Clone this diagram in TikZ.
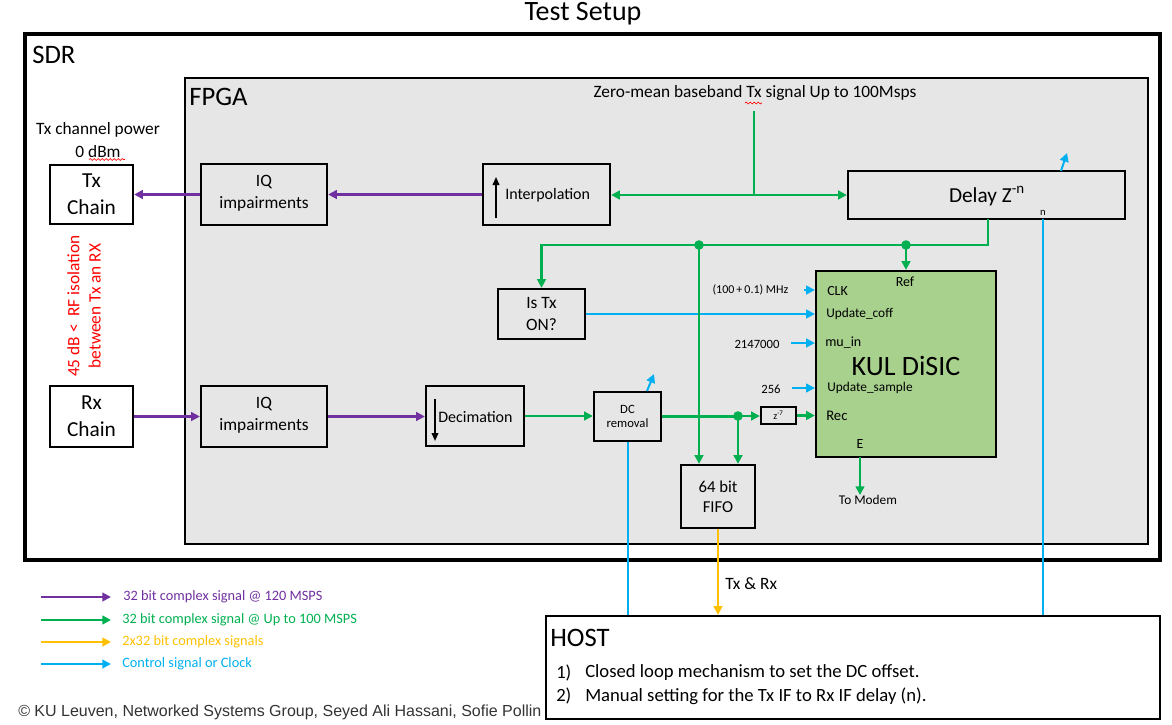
\documentclass[tikz,border=0pt]{standalone}
\usepackage{fontspec}
\setmainfont{Carlito}
\newfontfamily\arialf{Liberation Sans}
\usetikzlibrary{fit,arrows.meta,decorations.pathmorphing}
\definecolor{cPurp}{HTML}{7030A0}
\definecolor{cGrn}{HTML}{00B050}
\definecolor{cOrg}{HTML}{FFC000}
\definecolor{cCyn}{HTML}{00B0F0}
\definecolor{cFpga}{HTML}{E7E6E6}
\definecolor{cKul}{HTML}{A9D18E}
\newcommand\fsz[2]{\fontsize{#1}{#2}\selectfont}
\begin{document}
\begin{tikzpicture}[x=0.75pt,y=-0.75pt,
  box/.style={draw=black, line width=1.7pt, inner sep=0pt},
  txt/.style={inner sep=0pt, align=center},
  arrtip/.style={-{Triangle[length=6.5pt,width=6.5pt]}},
  sigP/.style={draw=cPurp, line width=1.6pt, arrtip},
  sigG/.style={draw=cGrn, line width=1.7pt, arrtip},
  sigO/.style={draw=cOrg, line width=1.5pt, arrtip},
  sigC/.style={draw=cCyn, line width=1.5pt, arrtip},
  lineG/.style={draw=cGrn, line width=1.7pt},
  lineC/.style={draw=cCyn, line width=1.5pt},
  dotG/.style={fill=cGrn},
  wavy/.style={draw=red, line width=0.5pt, decorate, decoration={snake, amplitude=0.7pt, segment length=3pt}},
  blk/.style={draw=black, line width=1.2pt, -{Triangle[length=6pt,width=5pt]}}
]
\useasboundingbox (0,0) rectangle (1172,725);

% title
\node[txt, font=\fsz{21}{25}] (title) at (583,14) {Test Setup};

% SDR
\node[draw=black, line width=3pt, inner sep=0pt, fit={(25,34)(1160,560)}] (sdr) {};
\node[txt, anchor=west, font=\fsz{20}{24}] (sdrl) at (32,55) {SDR};

% FPGA
\node[box, fill=cFpga, fit={(185,78)(1148,544)}] (fpga) {};
\node[txt, anchor=west, font=\fsz{20}{24}] (fpgal) at (189,97) {FPGA};
\node[txt, font=\fsz{13}{16}] (zm) at (755,93) {Zero-mean baseband Tx signal Up to 100Msps};
\draw[wavy] (745,103) -- (762,103);

% Tx side
\node[txt, font=\fsz{13}{16}] (txpow) at (98,130) {Tx channel power};
\node[txt, font=\fsz{13}{16}] (dbm) at (98,152) {0 dBm};
\draw[wavy] (89,159.5) -- (125,159.5);
\node[box, fill=white, fit={(50,165)(133,224)}] (txc) {};
\node[txt, font=\fsz{16}{20}] (txcl) at (txc.center) {Tx\\Chain};
\node[box, fill=white, fit={(50,386)(133,447)}] (rxc) {};
\node[txt, font=\fsz{16}{20}] (rxcl) at (rxc.center) {Rx\\Chain};
\node[txt, rotate=90, text=red, font=\fsz{13}{16}] (iso) at (84,306) {45 dB <\ \ RF isolation\\between Tx an RX};

% IQ impairments
\node[box, fit={(201,164)(327,225)}] (iqt) {};
\node[txt, font=\fsz{13}{16}] (iqtl) at ([yshift=0.8pt]iqt.center) {IQ\\impairments};
\node[box, fit={(201,386)(327,447)}] (iqb) {};
\node[txt, font=\fsz{13}{16}] (iqbl) at ([yshift=0.8pt]iqb.center) {IQ\\impairments};

% Interpolation
\node[box, fit={(483,164)(610,225)}] (interp) {};
\draw[blk] (496,218) -- (496,177);
\node[txt, anchor=west, font=\fsz{12}{14}] (interpl) at (505,195) {Interpolation};

% Decimation
\node[box, fit={(426,386)(524,446)}] (dec) {};
\draw[blk] (435,399) -- (435,441);
\node[txt, anchor=west, font=\fsz{12}{14}] (decl) at (438,417) {Decimation};

% Delay
\node[box, fit={(848,171)(1125,219)}] (delay) {};
\node[txt, font=\fsz{16}{19}] (delayl) at (987,196) {Delay Z\textsuperscript{-n}};
\node[txt, font=\fsz{8}{10}] (nl) at (1043,213) {n};

% Is Tx ON
\node[box, fit={(498,289)(585,339)}] (istx) {};
\node[txt, font=\fsz{13}{16}] (istxl) at (istx.center) {Is Tx\\ON?};

% KUL DiSIC
\node[box, fill=cKul, fit={(816,271)(996,457)}] (kul) {};
\node[txt, font=\fsz{21}{25}] (kull) at (906,366) {KUL DiSIC};
\node[txt, font=\fsz{10.5}{12}] (refl) at (905,282) {Ref};
\node[txt, anchor=west, font=\fsz{10.5}{12}] (clkl) at (827,291) {CLK};
\node[txt, anchor=west, font=\fsz{10}{12}] (updc) at (826,314) {Update\_coff};
\node[txt, anchor=west, font=\fsz{10.5}{12}] (muin) at (825,343) {mu\_in};
\node[txt, anchor=west, font=\fsz{10}{12}] (upds) at (827,388) {Update\_sample};
\node[txt, anchor=west, font=\fsz{11}{13}] (recl) at (826,416) {Rec};
\node[txt, font=\fsz{10.5}{12}] (el) at (860,444) {E};

% inputs to KUL
\node[txt, font=\fsz{9}{11}] (clkv) at (750.5,290) {(100\,+\,0.1) MHz};
\node[txt, font=\fsz{9.5}{11}] (muv) at (757,344) {2147000};
\node[txt, font=\fsz{9.5}{11}] (sv) at (771,389) {256};
\coordinate (clks) at (804,290);
\coordinate (mus) at (791,343);
\coordinate (ss) at (792,388);
\draw[sigC] (clks) -- (clks -| kul.west);
\draw[sigC] (mus) -- (mus -| kul.west);
\draw[sigC] (ss) -- (ss -| kul.west);
\draw[sigC] (istx.east) -- (istx.east -| kul.west);

% DC removal, z^-7, FIFO
\node[box, fit={(594,392)(661,441)}] (dcr) {};
\node[txt, font=\fsz{9.5}{11}] (dcrl) at (dcr.center) {DC\\removal};
\node[box, fit={(761,407)(796,424)}] (z7) {};
\node[txt, font=\fsz{7.5}{9}] (z7l) at (z7.center) {z\textsuperscript{-7}};
\node[box, fit={(681,465)(755,528)}] (fifo) {};
\node[txt, font=\fsz{12.5}{15}] (fifol) at (fifo.center) {64 bit\\FIFO};

% HOST
\node[box, fill=white, fit={(546,616)(1160,719)}] (host) {};
\node[txt, anchor=west, font=\fsz{20}{24}] (hostl) at (550,638) {HOST};
\node[txt, anchor=west, font=\fsz{14}{17}] (h1n) at (556,673) {1)};
\node[txt, anchor=west, font=\fsz{14}{17}] (h1) at (585,673) {Closed loop mechanism to set the DC offset.};
\node[txt, anchor=west, font=\fsz{14}{17}] (h2n) at (556,696) {2)};
\node[txt, anchor=west, font=\fsz{14}{17}] (h2) at (585,696) {Manual setting for the Tx IF to Rx IF delay (n).};

% purple signals
\draw[sigP] (iqt.west) -- (iqt.west -| txc.east);
\draw[sigP] (interp.west) -- (interp.west -| iqt.east);
\draw[sigP] (rxc.east) -- (rxc.east -| iqb.west);
\draw[sigP] (iqb.east) -- (iqb.east -| dec.west);

% green signals
\coordinate (zs) at (754,111);
\coordinate (zj) at (754,195);
\draw[lineG] (zs) -- (zj);
\draw[sigG] (zj) -- (zj -| interp.east);
\draw[sigG] (zj) -- (zj -| delay.west);
\coordinate (j1) at (699,245);
\coordinate (j2) at (906,245);
\coordinate (dout) at (988,219);
\draw[sigG] (dout) |- (j1) -| (istx.north);
\draw[sigG] (j1) -- (j1 |- fifo.north);
\draw[sigG] (j2) -- (j2 |- kul.north);
\fill[dotG] (j1) circle[radius=3.6pt];
\fill[dotG] (j2) circle[radius=3.6pt];
\draw[sigG] (dec.east) -- (dec.east -| dcr.west);
\coordinate (j3) at (738,416);
\draw[lineG] (dcr.east) -- (dcr.east -| j3);
\draw[sigG] (j3) -- (j3 -| z7.west);
\draw[sigG] (j3) -- (j3 |- fifo.north);
\fill[dotG] (j3) circle[radius=3.6pt];
\draw[sigG] (z7.east) -- (z7.east -| kul.west);
\node[txt, font=\fsz{10}{12}] (modem) at (868,500) {To Modem};
\coordinate (eo) at (860,457);
\draw[sigG] (eo) -- (eo |- modem.north);

% control signals
\coordinate (dca) at (647,391);
\coordinate (dcb) at (654,374);
\draw[sigC] (dca) -- (dcb);
\coordinate (dla) at (1061,171);
\coordinate (dlb) at (1067,153);
\draw[sigC] (dla) -- (dlb);
\draw[lineC] (dcr.south) -- (dcr.south |- host.north);
\coordinate (nx) at (1043,219);
\draw[lineC] (nx) -- (nx |- host.north);

% FIFO to host
\draw[sigO] (fifo.south) -- (fifo.south |- host.north);
\node[txt, anchor=west, font=\fsz{13}{16}] (txrx) at (725,584) {Tx \& Rx};

% legend
\coordinate (l1a) at (41,597); \coordinate (l1b) at (111,597);
\coordinate (l2a) at (41,620); \coordinate (l2b) at (111,620);
\coordinate (l3a) at (41,642); \coordinate (l3b) at (111,642);
\coordinate (l4a) at (41,664); \coordinate (l4b) at (111,664);
\draw[sigP] (l1a) -- (l1b);
\draw[sigG] (l2a) -- (l2b);
\draw[sigO] (l3a) -- (l3b);
\draw[sigC] (l4a) -- (l4b);
\node[txt, anchor=west, text=cPurp, font=\fsz{10.75}{13}] (lg1) at (123,597) {32 bit complex signal @ 120 MSPS};
\node[txt, anchor=west, text=cGrn, font=\fsz{10.75}{13}] (lg2) at (122,620) {32 bit complex signal @ Up to 100 MSPS};
\node[txt, anchor=west, text=cOrg, font=\fsz{10.75}{13}] (lg3) at (122,642) {2x32 bit complex signals};
\node[txt, anchor=west, text=cCyn, font=\fsz{10.75}{13}] (lg4) at (122,664) {Control signal or Clock};

% copyright
\node[txt, anchor=west, text=black!80, font=\arialf\fsz{12}{14}] (copy) at (18,712) {© KU Leuven, Networked Systems Group, Seyed Ali Hassani, Sofie Pollin};
\end{tikzpicture}
\end{document}
